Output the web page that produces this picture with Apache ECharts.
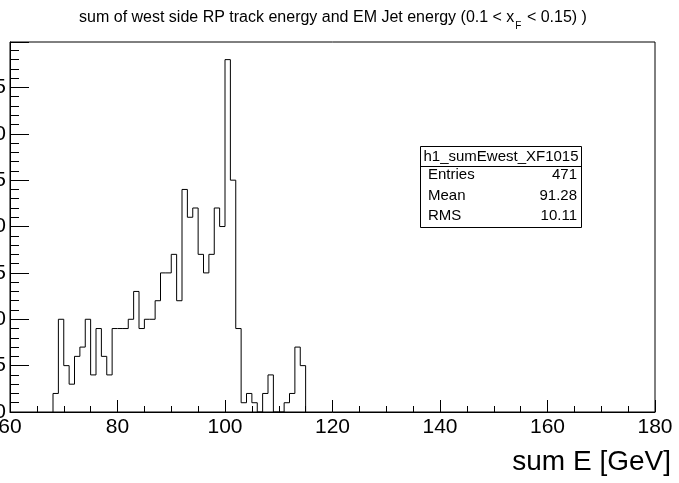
<!DOCTYPE html>
<html>
<head>
<meta charset="utf-8">
<script src="https://cdn.jsdelivr.net/npm/echarts@6/dist/echarts.min.js"></script>
<style>
  html, body { margin: 0; padding: 0; background: #fff; }
  #chart { width: 679px; height: 483px; }
</style>
</head>
<body>
<div id="chart"></div>
<script>
// Histogram h1_sumEwest_XF1015: lower edge of each 1 GeV bin and its count
const binLow = [68, 69, 70, 71, 72, 73, 74, 75, 76, 77, 78, 79, 80, 81, 82, 83, 84, 85, 86, 87,
                88, 89, 90, 91, 92, 93, 94, 95, 96, 97, 98, 99, 100, 101, 102, 103, 104, 105, 106,
                107, 108, 109, 110, 111, 112, 113, 114];
const counts = [2, 10, 5, 3, 6, 7, 10, 4, 9, 6, 4, 9, 9, 9, 10, 13, 9, 10, 10, 12,
                15, 15, 17, 12, 24, 21, 22, 17, 15, 17, 22, 20, 38, 25, 9, 1, 2, 1, 0,
                2, 4, 0, 0, 1, 2, 7, 5];
const binWidth = 1;

// Stats box
const statsName = 'h1_sumEwest_XF1015';
const statsLabels = ['Entries', 'Mean', 'RMS'];
const statsValues = ['471', '91.28', '10.11'];

const FONT = '"Liberation Sans", Arial, Helvetica, sans-serif';

// Step outline of the histogram, built from the bin edges and counts
const outline = [[binLow[0], 0]];
binLow.forEach((lo, i) => {
  outline.push([lo, counts[i]], [lo + binWidth, counts[i]]);
});
outline.push([binLow[binLow.length - 1] + binWidth, 0]);

const chart = echarts.init(document.getElementById('chart'), null, { renderer: 'canvas' });

const boxX = 420, boxY = 146, boxW = 161, boxH = 81, headH = 20;
const rowH = (boxH - headH) / statsLabels.length;
const statsElems = [
  { type: 'rect', shape: { x: boxX + 0.5, y: boxY + 0.5, width: boxW, height: boxH },
    style: { fill: '#fff', stroke: '#000', lineWidth: 1 } },
  { type: 'line', shape: { x1: boxX, y1: boxY + headH + 0.5, x2: boxX + boxW, y2: boxY + headH + 0.5 },
    style: { stroke: '#000', lineWidth: 1 } },
  { type: 'text', x: boxX + boxW / 2 + 0.5, y: boxY + headH / 2 + 1,
    style: { text: statsName, font: '15px ' + FONT, fill: '#000', textAlign: 'center', textVerticalAlign: 'middle' } }
];
statsLabels.forEach((lab, i) => {
  const cy = boxY + headH + rowH * (i + 0.5) - 1;
  statsElems.push(
    { type: 'text', x: boxX + 8, y: cy,
      style: { text: lab, font: '15px ' + FONT, fill: '#000', textAlign: 'left', textVerticalAlign: 'middle' } },
    { type: 'text', x: boxX + boxW - 4, y: cy,
      style: { text: statsValues[i], font: '15px ' + FONT, fill: '#000', textAlign: 'right', textVerticalAlign: 'middle' } }
  );
});

chart.setOption({
  animation: false,
  backgroundColor: '#fff',
  grid: {
    left: 10, right: 24, top: 42, bottom: 71,
    containLabel: false,
    outerBoundsMode: 'none',
    show: true, borderColor: '#000', borderWidth: 1, backgroundColor: 'transparent'
  },
  xAxis: {
    type: 'value', min: 60, max: 180, interval: 20,
    axisLine: { show: true, lineStyle: { color: '#000', width: 1 } },
    axisTick: { show: true, inside: true, length: 12, lineStyle: { color: '#000', width: 1 } },
    minorTick: { show: true, splitNumber: 4, length: 6, lineStyle: { color: '#000', width: 1 } },
    splitLine: { show: false },
    minorSplitLine: { show: false },
    axisLabel: { fontSize: 21, color: '#000', fontFamily: FONT, margin: 5, hideOverlap: false }
  },
  yAxis: {
    type: 'value', min: 0, max: 39.9, interval: 5,
    axisLine: { show: true, lineStyle: { color: '#000', width: 1 } },
    axisTick: { show: true, inside: true, length: 19, lineStyle: { color: '#000', width: 1 } },
    minorTick: { show: true, splitNumber: 5, length: 9, lineStyle: { color: '#000', width: 1 } },
    splitLine: { show: false },
    minorSplitLine: { show: false },
    axisLabel: { fontSize: 21, color: '#000', fontFamily: FONT, margin: 4, showMaxLabel: false, hideOverlap: false }
  },
  series: [{
    type: 'line',
    data: outline,
    showSymbol: false,
    symbol: 'none',
    lineStyle: { color: '#000', width: 1 },
    clip: true,
    silent: true
  }],
  graphic: [
    { type: 'text', x: 333, y: 18,
      style: {
        text: 'sum of west side RP track energy and EM Jet energy (0.1 < x{sub|F} < 0.15) )',
        font: '16px ' + FONT, fill: '#000', textAlign: 'center', textVerticalAlign: 'middle',
        rich: { sub: { fontSize: 10, fontFamily: FONT, fill: '#000', padding: [16, 1, 0, 1] } }
      } },
    { type: 'text', x: 671, y: 462,
      style: { text: 'sum E [GeV]', font: '28px ' + FONT, fill: '#000', textAlign: 'right', textVerticalAlign: 'middle' } },
    { type: 'group', children: statsElems }
  ]
});
</script>
</body>
</html>
